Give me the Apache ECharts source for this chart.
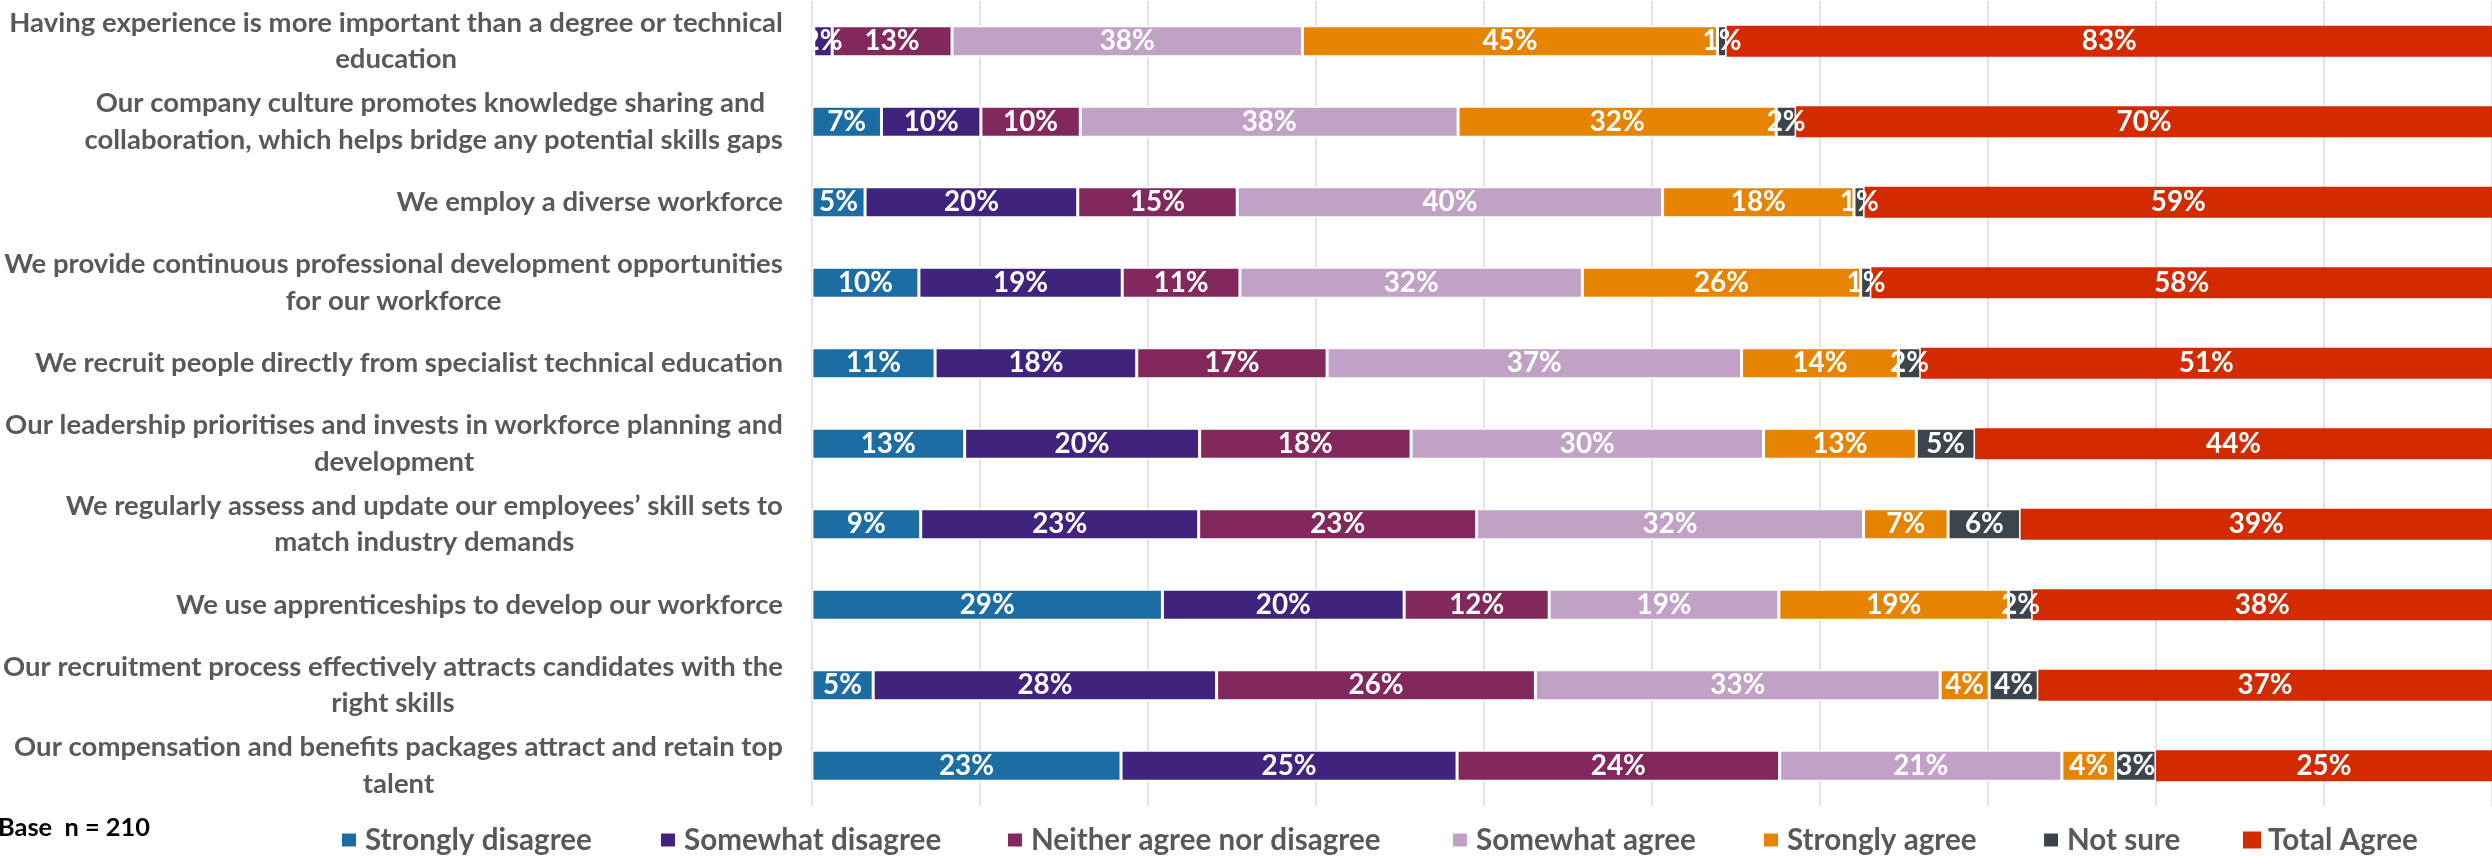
<!DOCTYPE html>
<html>
<head>
<meta charset="utf-8">
<script src="https://cdn.jsdelivr.net/npm/echarts@6/dist/echarts.min.js"></script>
<style>
html,body{margin:0;padding:0;background:#fff;}
#chart{width:2492px;height:856px;}
</style>
</head>
<body>
<div id="chart"></div>
<script>
const categories = [
  "Having experience is more important than a degree or technical\neducation",
  "Our company culture promotes knowledge sharing and \ncollaboration, which helps bridge any potential skills gaps",
  "We employ a diverse workforce",
  "We provide continuous professional development opportunities\nfor our workforce",
  "We recruit people directly from specialist technical education",
  "Our leadership prioritises and invests in workforce planning and\ndevelopment",
  "We regularly assess and update our employees\u2019 skill sets to\nmatch industry demands",
  "We use apprenticeships to develop our workforce",
  "Our recruitment process effectively attracts candidates with the\nright skills",
  "Our compensation and benefits packages attract and retain top\ntalent"
];
const seriesNames = ["Strongly disagree","Somewhat disagree","Neither agree nor disagree","Somewhat agree","Strongly agree","Not sure","Total Agree"];
const stronglyDisagree = [0.2, 7, 5, 10, 11, 13, 9, 29, 5, 23];
const somewhatDisagree = [2, 10, 20, 19, 18, 20, 23, 20, 28, 25];
const neitherAgree     = [13, 10, 15, 11, 17, 18, 23, 12, 26, 24];
const somewhatAgree    = [38, 38, 40, 32, 37, 30, 32, 19, 33, 21];
const stronglyAgree    = [45, 32, 18, 26, 14, 13, 7, 19, 4, 4];
const notSure          = [1, 2, 1, 1, 2, 5, 6, 2, 4, 3];
const totalAgree       = [83, 70, 59, 58, 51, 44, 39, 38, 37, 25];
const baseNote = "Base  n = 210";

const seriesValues = [stronglyDisagree, somewhatDisagree, neitherAgree, somewhatAgree, stronglyAgree, notSure, totalAgree];
const colors = ['#1B6DA3','#3F237D','#83285D','#C1A1C5','#E68300','#3C454C','#D42A00'];
const legendLeft = [335, 654, 1001, 1446, 1757, 2037, 2238];

const FAMILY = "'Liberation Sans Narrow', Lato, 'Open Sans', sans-serif";
const cv = document.createElement('canvas').getContext('2d');
function fit(text, target, weight) {
  cv.font = weight + ' 100px ' + FAMILY;
  return Math.round(1000 * target / cv.measureText(text).width) / 10;
}
const ySize = fit("Having experience is more important than a degree or technical", 775, 'bold');
const dSize = fit("38%", 55, 'bold');
const lSize = fit("Strongly disagree", 227, 'bold');
const bSize = fit(baseNote, 152, 'bold');

const rowTotals = categories.map((c, i) => seriesValues.reduce((s, arr) => s + arr[i], 0));

const series = seriesNames.map((name, k) => ({
  name: name,
  type: 'bar',
  stack: 'all',
  barWidth: 31,
  data: seriesValues[k].map((v, i) => v / rowTotals[i] * 100),
  itemStyle: { color: colors[k], borderColor: k === 6 ? colors[k] : '#ffffff', borderWidth: 1.5 },
  label: {
    show: true,
    position: 'inside',
    color: '#ffffff',
    fontFamily: FAMILY,
    fontWeight: 'bold',
    fontSize: dSize,
    formatter: p => {
      const raw = seriesValues[k][p.dataIndex];
      return raw < 0.5 ? '' : Math.round(raw) + '%';
    }
  },
  emphasis: { disabled: true }
}));

const legends = seriesNames.map((name, k) => ({
  data: [name],
  left: legendLeft[k],
  top: 820,
  icon: 'rect',
  itemWidth: 16,
  itemHeight: 15,
  selectedMode: false,
  textStyle: { color: '#595959', fontFamily: FAMILY, fontWeight: 'bold', fontSize: lSize, lineHeight: 30, padding: [0,0,0,3] }
}));

const chart = echarts.init(document.getElementById('chart'), null, { renderer: 'canvas' });
chart.setOption({
  animation: false,
  backgroundColor: '#ffffff',
  title: {
    text: baseNote,
    left: -2,
    top: 815,
    padding: 0,
    textStyle: { color: '#000000', fontFamily: FAMILY, fontWeight: 'bold', fontSize: bSize }
  },
  legend: legends,
  grid: { left: 810, right: 0, top: 1, bottom: 50, containLabel: false },
  xAxis: {
    type: 'value',
    min: 0, max: 100, interval: 10,
    axisLabel: { show: false },
    axisLine: { show: false },
    axisTick: { show: false },
    splitLine: { show: true, lineStyle: { color: '#D9D9D9', width: 1.5 } }
  },
  yAxis: {
    type: 'category',
    inverse: true,
    data: categories,
    axisLine: { show: false },
    axisTick: { show: false },
    axisLabel: {
      margin: 29,
      align: 'right',
      color: '#595959',
      fontFamily: FAMILY,
      fontWeight: 'bold',
      fontSize: ySize,
      lineHeight: 36.5,
      formatter: v => v.split('\n').map(l => '{c|' + l + '}').join('\n'),
      rich: { c: { align: 'center', color: '#595959', fontFamily: FAMILY, fontWeight: 'bold', fontSize: ySize, lineHeight: 36.5 } }
    }
  },
  series: series
});
</script>
</body>
</html>
